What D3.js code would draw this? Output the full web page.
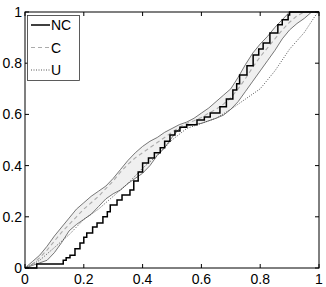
<!DOCTYPE html>
<meta charset="utf-8">
<head>
<script src="https://d3js.org/d3.v7.min.js"></script>
<style>
body { margin: 0; background: #fff; }
text { font-family: "Liberation Sans", Arial, sans-serif; }
</style>
</head>
<body>
<script>
// grid shared by the band and the C curve
const grid = d3.range(0, 41).map(i => i * 0.025)
const bandHi = [0, 0.025, 0.05, 0.085, 0.125, 0.16, 0.195, 0.23, 0.255, 0.28, 0.3, 0.32, 0.35, 0.385, 0.42, 0.45, 0.475, 0.495, 0.51, 0.53,
  0.545, 0.56, 0.57, 0.585, 0.605, 0.625, 0.65, 0.675, 0.70, 0.745, 0.795, 0.84, 0.875, 0.905, 0.94, 0.97, 1, 1, 1, 1, 1]
const bandLo = [0, 0.01, 0.02, 0.03, 0.06, 0.10, 0.145, 0.17, 0.19, 0.21, 0.24, 0.27, 0.29, 0.305, 0.33, 0.35, 0.37, 0.40, 0.44, 0.47,
  0.51, 0.545, 0.555, 0.56, 0.565, 0.575, 0.585, 0.597, 0.62, 0.65, 0.69, 0.73, 0.77, 0.81, 0.85, 0.895, 0.93, 0.955, 0.975, 1, 1]
const cVals = [0, 0.015, 0.04, 0.07, 0.105, 0.14, 0.17, 0.2, 0.23, 0.255, 0.28, 0.31, 0.34, 0.375, 0.405, 0.43, 0.45, 0.47, 0.49, 0.51,
  0.53, 0.55, 0.565, 0.575, 0.588, 0.605, 0.62, 0.64, 0.665, 0.7, 0.74, 0.785, 0.825, 0.86, 0.895, 0.93, 0.96, 0.985, 1, 1, 1]

const uX = [0, 0.05, 0.1, 0.15, 0.2, 0.25, 0.3, 0.35, 0.4, 0.45, 0.5, 0.55, 0.6, 0.65, 0.7, 0.75, 0.8, 0.85, 0.9, 0.95, 0.99, 1]
const uY = [0, 0.03, 0.08, 0.13, 0.19, 0.23, 0.28, 0.33, 0.39, 0.44, 0.5, 0.545, 0.565, 0.585, 0.62, 0.66, 0.70, 0.77, 0.855, 0.92, 0.99, 1]

const ncX = [0, 0.04, 0.126, 0.13, 0.14, 0.153, 0.17, 0.187, 0.2, 0.21, 0.23, 0.245, 0.265, 0.28, 0.29, 0.313, 0.33, 0.357, 0.37, 0.385,
  0.40, 0.42, 0.44, 0.46, 0.475, 0.493, 0.51, 0.527, 0.55, 0.585, 0.61, 0.63, 0.663, 0.685, 0.707, 0.72, 0.73, 0.755, 0.776, 0.795,
  0.81, 0.833, 0.86, 0.875, 0.895, 0.90, 1]
const ncY = [0, 0.016, 0.016, 0.03, 0.04, 0.05, 0.075, 0.098, 0.12, 0.137, 0.16, 0.176, 0.2, 0.22, 0.246, 0.266, 0.285, 0.305, 0.34, 0.375,
  0.41, 0.43, 0.45, 0.47, 0.495, 0.52, 0.535, 0.55, 0.56, 0.578, 0.59, 0.605, 0.63, 0.66, 0.695, 0.72, 0.754, 0.79, 0.832, 0.855,
  0.879, 0.918, 0.95, 0.97, 0.988, 1, 1]

const ticks = [0, 0.2, 0.4, 0.6, 0.8, 1]
const tickLabels = ["0", "0.2", "0.4", "0.6", "0.8", "1"]
const legendNames = ["NC", "C", "U"]

const width = 326, height = 287
const margin = {top: 12, right: 7, bottom: 19, left: 25}

const x = d3.scaleLinear().domain([0, 1]).range([margin.left, width - margin.right])
const y = d3.scaleLinear().domain([0, 1]).range([height - margin.bottom, margin.top])

const svg = d3.select("body").append("svg")
  .attr("width", width)
  .attr("height", height)

// confidence band
const band = grid.map((g, i) => ({x: g, lo: bandLo[i], hi: bandHi[i]}))
svg.append("path")
  .datum(band)
  .attr("fill", "#f0f0f0")
  .attr("d", d3.area().x(d => x(d.x)).y0(d => y(d.lo)).y1(d => y(d.hi)))

const line = d3.line().x(d => x(d[0])).y(d => y(d[1]))

svg.append("path")
  .datum(band.map(d => [d.x, d.hi]))
  .attr("fill", "none").attr("stroke", "#555").attr("stroke-width", 0.8)
  .attr("d", line)
svg.append("path")
  .datum(band.map(d => [d.x, d.lo]))
  .attr("fill", "none").attr("stroke", "#555").attr("stroke-width", 0.8)
  .attr("d", line)

// C
svg.append("path")
  .datum(grid.map((g, i) => [g, cVals[i]]))
  .attr("fill", "none").attr("stroke", "#ababab").attr("stroke-width", 1.1)
  .attr("stroke-dasharray", "4,3")
  .attr("d", line)

// U
svg.append("path")
  .datum(uX.map((v, i) => [v, uY[i]]))
  .attr("fill", "none").attr("stroke", "#444").attr("stroke-width", 0.9)
  .attr("stroke-dasharray", "1,1.5")
  .attr("d", line)

// NC
svg.append("path")
  .datum(ncX.map((v, i) => [v, ncY[i]]))
  .attr("fill", "none").attr("stroke", "#000").attr("stroke-width", 1.5)
  .attr("d", d3.line().x(d => x(d[0])).y(d => y(d[1])).curve(d3.curveStepAfter))

// axes box with inward ticks
const x0 = x(0), x1 = x(1), y0 = y(0), y1 = y(1)
svg.append("rect")
  .attr("x", x0).attr("y", y1).attr("width", x1 - x0).attr("height", y0 - y1)
  .attr("fill", "none").attr("stroke", "#000").attr("stroke-width", 1)

const tk = svg.append("g").attr("stroke", "#000").attr("stroke-width", 1)
ticks.forEach(t => {
  tk.append("line").attr("x1", x(t)).attr("x2", x(t)).attr("y1", y0).attr("y2", y0 - 4)
  tk.append("line").attr("x1", x(t)).attr("x2", x(t)).attr("y1", y1).attr("y2", y1 + 4)
  tk.append("line").attr("y1", y(t)).attr("y2", y(t)).attr("x1", x0).attr("x2", x0 + 4)
  tk.append("line").attr("y1", y(t)).attr("y2", y(t)).attr("x1", x1).attr("x2", x1 - 4)
})

svg.append("g").selectAll("text")
  .data(ticks)
  .join("text")
    .attr("x", d => x(d))
    .attr("y", y0 + 16)
    .attr("text-anchor", "middle")
    .attr("font-size", 14)
    .text((d, i) => tickLabels[i])

svg.append("g").selectAll("text")
  .data(ticks)
  .join("text")
    .attr("x", x0 - 3)
    .attr("y", d => y(d) + 5)
    .attr("text-anchor", "end")
    .attr("font-size", 14)
    .text((d, i) => tickLabels[i])

// legend
const lg = svg.append("g")
lg.append("rect")
  .attr("x", 27.5).attr("y", 15.5).attr("width", 52).attr("height", 65)
  .attr("fill", "#fff").attr("stroke", "#333").attr("stroke-width", 0.8)
const styles = [
  {stroke: "#000", w: 1.5, dash: null},
  {stroke: "#ababab", w: 1.1, dash: "4,3"},
  {stroke: "#444", w: 0.9, dash: "1,1.5"}
]
legendNames.forEach((n, i) => {
  const yy = 25 + i * 22.5
  lg.append("line")
    .attr("x1", 31).attr("x2", 50).attr("y1", yy).attr("y2", yy)
    .attr("stroke", styles[i].stroke).attr("stroke-width", styles[i].w)
    .attr("stroke-dasharray", styles[i].dash)
  lg.append("text")
    .attr("x", 51).attr("y", yy + 5)
    .attr("font-size", 14)
    .text(n)
})
</script>
</body>
